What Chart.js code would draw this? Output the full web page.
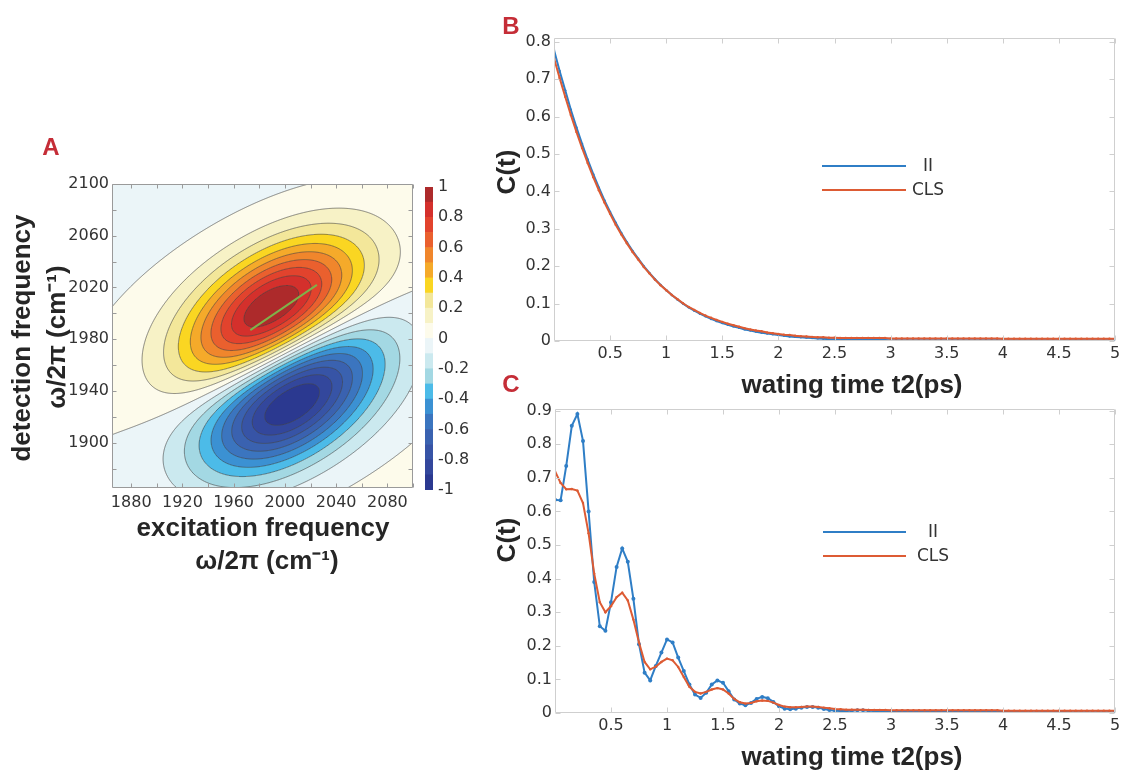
<!DOCTYPE html>
<html>
<head>
<meta charset="utf-8">
<script src="https://cdn.jsdelivr.net/npm/chart.js@4.4.1/dist/chart.umd.min.js"></script>
<style>
  html, body { margin: 0; padding: 0; background: #ffffff; }
  #figure { position: relative; width: 1124px; height: 775px; overflow: hidden; background: #ffffff; }
  #figure canvas { position: absolute; left: 0; top: 0; }
</style>
</head>
<body>
<div id="figure">
  <canvas id="spectrumMap" width="1124" height="775"></canvas>
  <canvas id="spectrumScale" width="1124" height="775"></canvas>
  <canvas id="decayPlot" width="1124" height="775"></canvas>
  <canvas id="beatPlot" width="1124" height="775"></canvas>
</div>
<script>
// ---------------- Panel A: 2D IR spectrum ----------------
const excitationTicks = [1880, 1920, 1960, 2000, 2040, 2080];
const detectionTicks = [1900, 1940, 1980, 2020, 2060, 2100];
const frequencyMarks = [1880, 1900, 1920, 1940, 1960, 1980, 2000, 2020, 2040, 2060, 2080, 2100];
const frequencyRange = [1865, 2100];

// bleach (+) and excited-state absorption (-) peaks, cm^-1
const peakExcitation = [1990, 2005];
const peakDetection = [2001, 1934];
const peakSign = [1, -1];

// line shape of each peak: correlated core, broader halo, opposite-sign wing
const shapeTilt = [35, 22, 24];        // degrees from the excitation axis
const shapeAlong = [52, 80, 120];      // width along the tilt, cm^-1
const shapeAcross = [28, 46, 75];      // width across the tilt, cm^-1
const shapeWeight = [1, 0.22, -0.145];

// centre line of the bleach peak
const clsExcitation = [1973, 2025];
const clsDetection = [1987, 2022];

// contour levels and their fill colours (from -1 upward)
const contourLevels = [-1, -0.9, -0.8, -0.7, -0.6, -0.5, -0.4, -0.3, -0.2, -0.1, 0,
                       0.1, 0.2, 0.3, 0.4, 0.5, 0.6, 0.7, 0.8, 0.9, 1];
const levelColors = ['#2b3990', '#33479c', '#3754a6', '#3a62b0', '#3b75bf',
                     '#3b91d3', '#4cbbe8', '#a3d8e3', '#cbe9ef', '#ebf5f8',
                     '#fdfbeb', '#f7f2c6', '#f3e79a', '#fad622', '#f5aa2a',
                     '#f0862c', '#ea602e', '#e2432d', '#d4302c', '#ad2a2b'];
const colorbarTicks = [-1, -0.8, -0.6, -0.4, -0.2, 0, 0.2, 0.4, 0.6, 0.8, 1];

// ---------------- Panels B and C: correlation decays ----------------
const waitingTimes = [
  0, 0.05, 0.1, 0.15, 0.2, 0.25, 0.3, 0.35, 0.4, 0.45,
  0.5, 0.55, 0.6, 0.65, 0.7, 0.75, 0.8, 0.85, 0.9, 0.95,
  1, 1.05, 1.1, 1.15, 1.2, 1.25, 1.3, 1.35, 1.4, 1.45,
  1.5, 1.55, 1.6, 1.65, 1.7, 1.75, 1.8, 1.85, 1.9, 1.95,
  2, 2.05, 2.1, 2.15, 2.2, 2.25, 2.3, 2.35, 2.4, 2.45,
  2.5, 2.55, 2.6, 2.65, 2.7, 2.75, 2.8, 2.85, 2.9, 2.95,
  3, 3.05, 3.1, 3.15, 3.2, 3.25, 3.3, 3.35, 3.4, 3.45,
  3.5, 3.55, 3.6, 3.65, 3.7, 3.75, 3.8, 3.85, 3.9, 3.95,
  4, 4.05, 4.1, 4.15, 4.2, 4.25, 4.3, 4.35, 4.4, 4.45,
  4.5, 4.55, 4.6, 4.65, 4.7, 4.75, 4.8, 4.85, 4.9, 4.95, 5];
const timeTicks = [0.5, 1, 1.5, 2, 2.5, 3, 3.5, 4, 4.5, 5];
const decayTicks = [0, 0.1, 0.2, 0.3, 0.4, 0.5, 0.6, 0.7, 0.8];
const beatTicks = [0, 0.1, 0.2, 0.3, 0.4, 0.5, 0.6, 0.7, 0.8, 0.9];

const decayII = [
  0.778, 0.722, 0.670, 0.618, 0.571, 0.527, 0.485, 0.446, 0.410, 0.376,
  0.345, 0.316, 0.289, 0.264, 0.241, 0.220, 0.200, 0.182, 0.165, 0.150,
  0.136, 0.123, 0.111, 0.100, 0.090, 0.081, 0.073, 0.066, 0.059, 0.053,
  0.048, 0.043, 0.039, 0.035, 0.031, 0.028, 0.025, 0.022, 0.020, 0.018,
  0.016, 0.014, 0.012, 0.011, 0.010, 0.009, 0.008, 0.007, 0.006, 0.005,
  0.005, 0.004, 0.004, 0.004, 0.003, 0.003, 0.003, 0.003, 0.003, 0.003,
  0.002, 0.002, 0.002, 0.002, 0.002, 0.002, 0.002, 0.002, 0.002, 0.002,
  0.002, 0.002, 0.002, 0.002, 0.002, 0.002, 0.002, 0.002, 0.002, 0.002,
  0.002, 0.002, 0.002, 0.002, 0.002, 0.002, 0.002, 0.002, 0.002, 0.002,
  0.002, 0.002, 0.002, 0.002, 0.002, 0.002, 0.002, 0.002, 0.002, 0.002, 0.002];
const decayCLS = [
  0.756, 0.703, 0.653, 0.604, 0.559, 0.516, 0.476, 0.438, 0.403, 0.370,
  0.340, 0.311, 0.285, 0.261, 0.238, 0.218, 0.198, 0.181, 0.164, 0.149,
  0.136, 0.123, 0.112, 0.101, 0.091, 0.083, 0.075, 0.068, 0.062, 0.056,
  0.051, 0.046, 0.042, 0.038, 0.034, 0.031, 0.028, 0.026, 0.023, 0.021,
  0.019, 0.017, 0.016, 0.014, 0.013, 0.012, 0.011, 0.010, 0.010, 0.009,
  0.009, 0.008, 0.008, 0.008, 0.008, 0.008, 0.008, 0.008, 0.008, 0.008,
  0.007, 0.007, 0.007, 0.007, 0.007, 0.007, 0.007, 0.007, 0.007, 0.007,
  0.007, 0.007, 0.007, 0.007, 0.007, 0.007, 0.007, 0.007, 0.007, 0.007,
  0.006, 0.006, 0.006, 0.006, 0.006, 0.006, 0.006, 0.006, 0.006, 0.006,
  0.006, 0.006, 0.006, 0.006, 0.006, 0.006, 0.006, 0.006, 0.006, 0.006, 0.006];

const beatII = [
  0.635, 0.633, 0.735, 0.855, 0.890, 0.810, 0.600, 0.390, 0.258, 0.245,
  0.330, 0.435, 0.490, 0.450, 0.340, 0.205, 0.120, 0.097, 0.140, 0.180,
  0.219, 0.210, 0.165, 0.125, 0.085, 0.055, 0.045, 0.060, 0.085, 0.097,
  0.090, 0.065, 0.040, 0.028, 0.023, 0.030, 0.042, 0.048, 0.044, 0.033,
  0.020, 0.013, 0.011, 0.013, 0.016, 0.018, 0.018, 0.016, 0.012, 0.009,
  0.007, 0.006, 0.006, 0.007, 0.008, 0.008, 0.007, 0.006, 0.005, 0.005,
  0.004, 0.004, 0.005, 0.005, 0.004, 0.004, 0.004, 0.003, 0.003, 0.004,
  0.004, 0.004, 0.003, 0.003, 0.003, 0.003, 0.003, 0.003, 0.003, 0.003,
  0.003, 0.003, 0.003, 0.003, 0.003, 0.002, 0.002, 0.003, 0.003, 0.003,
  0.003, 0.003, 0.002, 0.002, 0.002, 0.002, 0.002, 0.002, 0.002, 0.002, 0.002];
const beatCLS = [
  0.720, 0.685, 0.666, 0.667, 0.662, 0.625, 0.535, 0.415, 0.330, 0.300,
  0.318, 0.345, 0.358, 0.335, 0.278, 0.210, 0.152, 0.130, 0.138, 0.152,
  0.162, 0.157, 0.137, 0.107, 0.078, 0.063, 0.058, 0.063, 0.070, 0.074,
  0.070, 0.058, 0.042, 0.032, 0.028, 0.030, 0.035, 0.037, 0.036, 0.031,
  0.024, 0.019, 0.017, 0.017, 0.018, 0.019, 0.019, 0.018, 0.016, 0.014,
  0.012, 0.011, 0.010, 0.010, 0.010, 0.010, 0.009, 0.009, 0.009, 0.009,
  0.008, 0.008, 0.008, 0.008, 0.008, 0.008, 0.008, 0.008, 0.008, 0.008,
  0.008, 0.008, 0.008, 0.008, 0.008, 0.008, 0.008, 0.008, 0.008, 0.008,
  0.007, 0.007, 0.007, 0.007, 0.007, 0.007, 0.007, 0.007, 0.007, 0.007,
  0.007, 0.007, 0.007, 0.007, 0.007, 0.007, 0.007, 0.007, 0.007, 0.007, 0.007];

// ---------------- shared helpers ----------------
const TICK_FONT = { family: "'DejaVu Sans', sans-serif", size: 16 };
const TITLE_FONT = "bold 26px 'Liberation Sans', Arial, sans-serif";
const LETTER_FONT = "bold 24px 'Liberation Sans', Arial, sans-serif";
const LETTER_COLOR = '#c52d37';
const TITLE_COLOR = '#262626';
const II_COLOR = '#2f7ec6';
const CLS_COLOR = '#dd5b34';

Chart.defaults.color = '#333333';
Chart.defaults.font.family = TICK_FONT.family;

const fmt = v => String(Math.round(v * 1000) / 1000);
const pairs = (xs, ys) => xs.map((x, i) => ({ x, y: ys[i] }));
const tickSetter = values => scale => { scale.ticks = values.map(value => ({ value })); };
const widthOf = w => scale => { scale.width = w; };
const heightOf = h => scale => { scale.height = h; };
const hexRGB = h => [parseInt(h.slice(1, 3), 16), parseInt(h.slice(3, 5), 16), parseInt(h.slice(5, 7), 16)];

// box around the plotting area with inward tick marks on all four sides
function framePlugin(cfg) {
  return {
    id: 'frame',
    afterDatasetsDraw(chart) {
      const { ctx, chartArea: a, scales: { x, y } } = chart;
      const L = Math.round(a.left) + 0.5, R = Math.round(a.right) - 0.5;
      const T = Math.round(a.top) + 0.5, B = Math.round(a.bottom) - 0.5;
      ctx.save();
      ctx.strokeStyle = cfg.color;
      ctx.lineWidth = 1;
      ctx.beginPath();
      ctx.rect(L, T, R - L, B - T);
      cfg.xMarks.forEach(v => {
        const p = Math.round(x.getPixelForValue(v)) + 0.5;
        ctx.moveTo(p, B); ctx.lineTo(p, B - cfg.len);
        ctx.moveTo(p, T); ctx.lineTo(p, T + cfg.len);
      });
      cfg.yMarks.forEach(v => {
        const p = Math.round(y.getPixelForValue(v)) + 0.5;
        ctx.moveTo(L, p); ctx.lineTo(L + cfg.len, p);
        ctx.moveTo(R, p); ctx.lineTo(R - cfg.len, p);
      });
      ctx.stroke();
      ctx.restore();
    }
  };
}

// free text: panel letters and axis titles
function textPlugin(items) {
  return {
    id: 'captions',
    afterDraw(chart) {
      const ctx = chart.ctx;
      items.forEach(it => {
        ctx.save();
        ctx.translate(it.x, it.y);
        if (it.rot) ctx.rotate(it.rot);
        ctx.font = it.font;
        ctx.fillStyle = it.color;
        ctx.textAlign = 'center';
        ctx.textBaseline = 'middle';
        ctx.fillText(it.text, 0, 0);
        ctx.restore();
      });
    }
  };
}

// legend without a box, lines followed by centred labels
function inlineLegend(cfg) {
  return {
    id: 'inlineLegend',
    afterDatasetsDraw(chart) {
      const ctx = chart.ctx;
      const a = chart.chartArea;
      ctx.save();
      cfg.rows.forEach(row => {
        const ds = chart.data.datasets[row.dataset];
        const yy = a.top + row.dy;
        ctx.strokeStyle = ds.borderColor;
        ctx.lineWidth = 2;
        ctx.beginPath();
        ctx.moveTo(a.left + cfg.x0, yy);
        ctx.lineTo(a.left + cfg.x1, yy);
        ctx.stroke();
        ctx.fillStyle = '#333333';
        ctx.font = "17px 'DejaVu Sans', sans-serif";
        ctx.textAlign = 'center';
        ctx.textBaseline = 'middle';
        ctx.fillText(ds.label, a.left + cfg.tx, yy + 1);
      });
      ctx.restore();
    }
  };
}

// ---------------- spectrum field ----------------
const shapeCos = shapeTilt.map(t => Math.cos(t * Math.PI / 180));
const shapeSin = shapeTilt.map(t => Math.sin(t * Math.PI / 180));

function spectrum(wx, wy) {
  let s = 0;
  for (let k = 0; k < peakSign.length; k++) {
    const dx = wx - peakExcitation[k], dy = wy - peakDetection[k];
    let shape = 0;
    for (let m = 0; m < shapeWeight.length; m++) {
      const u = dx * shapeCos[m] + dy * shapeSin[m];
      const v = -dx * shapeSin[m] + dy * shapeCos[m];
      shape += shapeWeight[m] * Math.exp(-(u * u / (2 * shapeAlong[m] * shapeAlong[m]) +
                                           v * v / (2 * shapeAcross[m] * shapeAcross[m])));
    }
    s += peakSign[k] * shape;
  }
  return s;
}

function bandIndex(s) {
  for (let k = 0; k < levelColors.length; k++) {
    if (s < contourLevels[k + 1]) return k;
  }
  return levelColors.length - 1;
}

const levelRGB = levelColors.map(hexRGB);

const spectrumFill = {
  id: 'spectrumFill',
  beforeDatasetsDraw(chart) {
    const { ctx, chartArea: a, scales: { x, y } } = chart;
    const L = Math.round(a.left), T = Math.round(a.top);
    const W = Math.round(a.right) - L, H = Math.round(a.bottom) - T;
    const vals = new Float32Array(W * H);
    let peak = 0;
    for (let j = 0; j < H; j++) {
      const wy = y.getValueForPixel(T + j + 0.5);
      for (let i = 0; i < W; i++) {
        const s = spectrum(x.getValueForPixel(L + i + 0.5), wy);
        vals[j * W + i] = s;
        if (Math.abs(s) > peak) peak = Math.abs(s);
      }
    }
    for (let k = 0; k < vals.length; k++) vals[k] /= peak;

    const img = ctx.createImageData(W, H);
    for (let k = 0; k < vals.length; k++) {
      const c = levelRGB[bandIndex(vals[k])];
      img.data[4 * k] = c[0];
      img.data[4 * k + 1] = c[1];
      img.data[4 * k + 2] = c[2];
      img.data[4 * k + 3] = 255;
    }
    ctx.putImageData(img, L, T);

    // contour lines by marching squares on the pixel grid
    const f = (i, j) => vals[j * W + i];
    ctx.save();
    ctx.beginPath();
    const lineLevels = contourLevels.slice(1, -1);
    for (const lev of lineLevels) {
      for (let j = 0; j < H - 1; j++) {
        for (let i = 0; i < W - 1; i++) {
          const a0 = f(i, j), b0 = f(i + 1, j), c0 = f(i + 1, j + 1), d0 = f(i, j + 1);
          const above = (a0 > lev) + (b0 > lev) + (c0 > lev) + (d0 > lev);
          if (above === 0 || above === 4) continue;
          const pts = [];
          if ((a0 > lev) !== (b0 > lev)) pts.push([i + (lev - a0) / (b0 - a0), j]);
          if ((b0 > lev) !== (c0 > lev)) pts.push([i + 1, j + (lev - b0) / (c0 - b0)]);
          if ((d0 > lev) !== (c0 > lev)) pts.push([i + (lev - d0) / (c0 - d0), j + 1]);
          if ((a0 > lev) !== (d0 > lev)) pts.push([i, j + (lev - a0) / (d0 - a0)]);
          for (let p = 0; p + 1 < pts.length; p += 2) {
            ctx.moveTo(L + pts[p][0] + 0.5, T + pts[p][1] + 0.5);
            ctx.lineTo(L + pts[p + 1][0] + 0.5, T + pts[p + 1][1] + 0.5);
          }
        }
      }
    }
    ctx.strokeStyle = 'rgba(70,70,70,0.8)';
    ctx.lineWidth = 0.8;
    ctx.stroke();
    ctx.restore();
  }
};

const W_PAGE = 1124, H_PAGE = 775;

// ---------------- Panel A chart ----------------
new Chart(document.getElementById('spectrumMap'), {
  type: 'scatter',
  data: {
    datasets: [{
      label: 'CLS',
      data: pairs(clsExcitation, clsDetection),
      showLine: true,
      borderColor: '#7fb24a',
      borderWidth: 2,
      pointRadius: 0
    }]
  },
  options: {
    responsive: false,
    animation: false,
    devicePixelRatio: 1,
    layout: { padding: { left: 112 - 60, top: 184, right: W_PAGE - 413, bottom: H_PAGE - 488 - 30 } },
    plugins: { legend: { display: false }, tooltip: { enabled: false } },
    scales: {
      x: {
        type: 'linear', min: frequencyRange[0], max: frequencyRange[1],
        afterBuildTicks: tickSetter(excitationTicks),
        afterFit: heightOf(30),
        grid: { display: false, drawTicks: false }, border: { display: false },
        ticks: { callback: fmt, font: TICK_FONT, padding: 5, maxRotation: 0, autoSkip: false }
      },
      y: {
        type: 'linear', min: frequencyRange[0], max: frequencyRange[1],
        afterBuildTicks: tickSetter(detectionTicks),
        afterFit: widthOf(60),
        grid: { display: false, drawTicks: false }, border: { display: false },
        ticks: { callback: fmt, font: TICK_FONT, padding: 3, autoSkip: false }
      }
    }
  },
  plugins: [
    spectrumFill,
    framePlugin({ color: '#9a9a9a', len: 4, xMarks: frequencyMarks, yMarks: frequencyMarks }),
    textPlugin([
      { text: 'A', x: 51, y: 148, font: LETTER_FONT, color: LETTER_COLOR },
      { text: 'detection frequency', x: 23, y: 338, rot: -Math.PI / 2, font: TITLE_FONT, color: TITLE_COLOR },
      { text: 'ω/2π (cm⁻¹)', x: 58, y: 337, rot: -Math.PI / 2, font: TITLE_FONT, color: TITLE_COLOR },
      { text: 'excitation frequency', x: 263, y: 529, font: TITLE_FONT, color: TITLE_COLOR },
      { text: 'ω/2π (cm⁻¹)', x: 267, y: 562, font: TITLE_FONT, color: TITLE_COLOR }
    ])
  ]
});

// ---------------- Panel A colour bar ----------------
new Chart(document.getElementById('spectrumScale'), {
  type: 'bar',
  data: {
    labels: [''],
    datasets: levelColors.map((c, k) => ({
      label: fmt(contourLevels[k]),
      data: [[contourLevels[k], contourLevels[k + 1]]],
      backgroundColor: c,
      borderWidth: 0,
      grouped: false,
      barPercentage: 1,
      categoryPercentage: 1
    }))
  },
  options: {
    responsive: false,
    animation: false,
    devicePixelRatio: 1,
    layout: { padding: { left: 425, top: 187, right: W_PAGE - 433 - 40, bottom: H_PAGE - 490 } },
    plugins: { legend: { display: false }, tooltip: { enabled: false } },
    scales: {
      x: { display: false },
      y: {
        position: 'right', min: -1, max: 1,
        afterBuildTicks: tickSetter(colorbarTicks),
        afterFit: widthOf(40),
        grid: { display: false, drawTicks: false }, border: { display: false },
        ticks: { callback: fmt, font: TICK_FONT, padding: 5, autoSkip: false }
      }
    }
  }
});

// ---------------- Panels B and C ----------------
function decayChart(canvasId, ii, cls, yMax, yTicks, area, iiRadius, legendRows, captions) {
  return new Chart(document.getElementById(canvasId), {
    type: 'line',
    data: {
      datasets: [
        { label: 'CLS', data: pairs(waitingTimes, cls), borderColor: CLS_COLOR, backgroundColor: CLS_COLOR,
          borderWidth: 2, pointRadius: 1.2, pointBorderWidth: 0, tension: 0, order: 0 },
        { label: 'II', data: pairs(waitingTimes, ii), borderColor: II_COLOR, backgroundColor: II_COLOR,
          borderWidth: 2, pointRadius: iiRadius, pointBorderWidth: 0, tension: 0, order: 1 }
      ]
    },
    options: {
      responsive: false,
      animation: false,
      devicePixelRatio: 1,
      layout: { padding: { left: area.left - 60, top: area.top, right: W_PAGE - area.right, bottom: H_PAGE - area.bottom - 30 } },
      plugins: { legend: { display: false }, tooltip: { enabled: false } },
      scales: {
        x: {
          type: 'linear', min: 0, max: 5,
          afterBuildTicks: tickSetter(timeTicks),
          afterFit: heightOf(30),
          grid: { display: false, drawTicks: false }, border: { display: false },
          ticks: { callback: fmt, font: TICK_FONT, padding: 3, maxRotation: 0, autoSkip: false }
        },
        y: {
          type: 'linear', min: 0, max: yMax,
          afterBuildTicks: tickSetter(yTicks),
          afterFit: widthOf(60),
          grid: { display: false, drawTicks: false }, border: { display: false },
          ticks: { callback: fmt, font: TICK_FONT, padding: 3, autoSkip: false }
        }
      }
    },
    plugins: [
      framePlugin({ color: '#cfcfcf', len: 5, xMarks: timeTicks, yMarks: yTicks }),
      inlineLegend(legendRows),
      textPlugin(captions)
    ]
  });
}

decayChart('decayPlot', decayII, decayCLS, 0.81, decayTicks,
  { left: 554, top: 38, right: 1115, bottom: 341 }, 1.2,
  { x0: 822 - 554, x1: 906 - 554, tx: 928 - 554, rows: [{ dataset: 1, dy: 166 - 38 }, { dataset: 0, dy: 190 - 38 }] },
  [
    { text: 'B', x: 511, y: 27, font: LETTER_FONT, color: LETTER_COLOR },
    { text: 'C(t)', x: 508, y: 172, rot: -Math.PI / 2, font: TITLE_FONT, color: TITLE_COLOR },
    { text: 'wating time t2(ps)', x: 852, y: 386, font: TITLE_FONT, color: TITLE_COLOR }
  ]);

decayChart('beatPlot', beatII, beatCLS, 0.905, beatTicks,
  { left: 555, top: 409, right: 1115, bottom: 713 }, 2,
  { x0: 823 - 555, x1: 906 - 555, tx: 933 - 555, rows: [{ dataset: 1, dy: 532 - 409 }, { dataset: 0, dy: 556 - 409 }] },
  [
    { text: 'C', x: 511, y: 385, font: LETTER_FONT, color: LETTER_COLOR },
    { text: 'C(t)', x: 508, y: 540, rot: -Math.PI / 2, font: TITLE_FONT, color: TITLE_COLOR },
    { text: 'wating time t2(ps)', x: 852, y: 758, font: TITLE_FONT, color: TITLE_COLOR }
  ]);
</script>
</body>
</html>
